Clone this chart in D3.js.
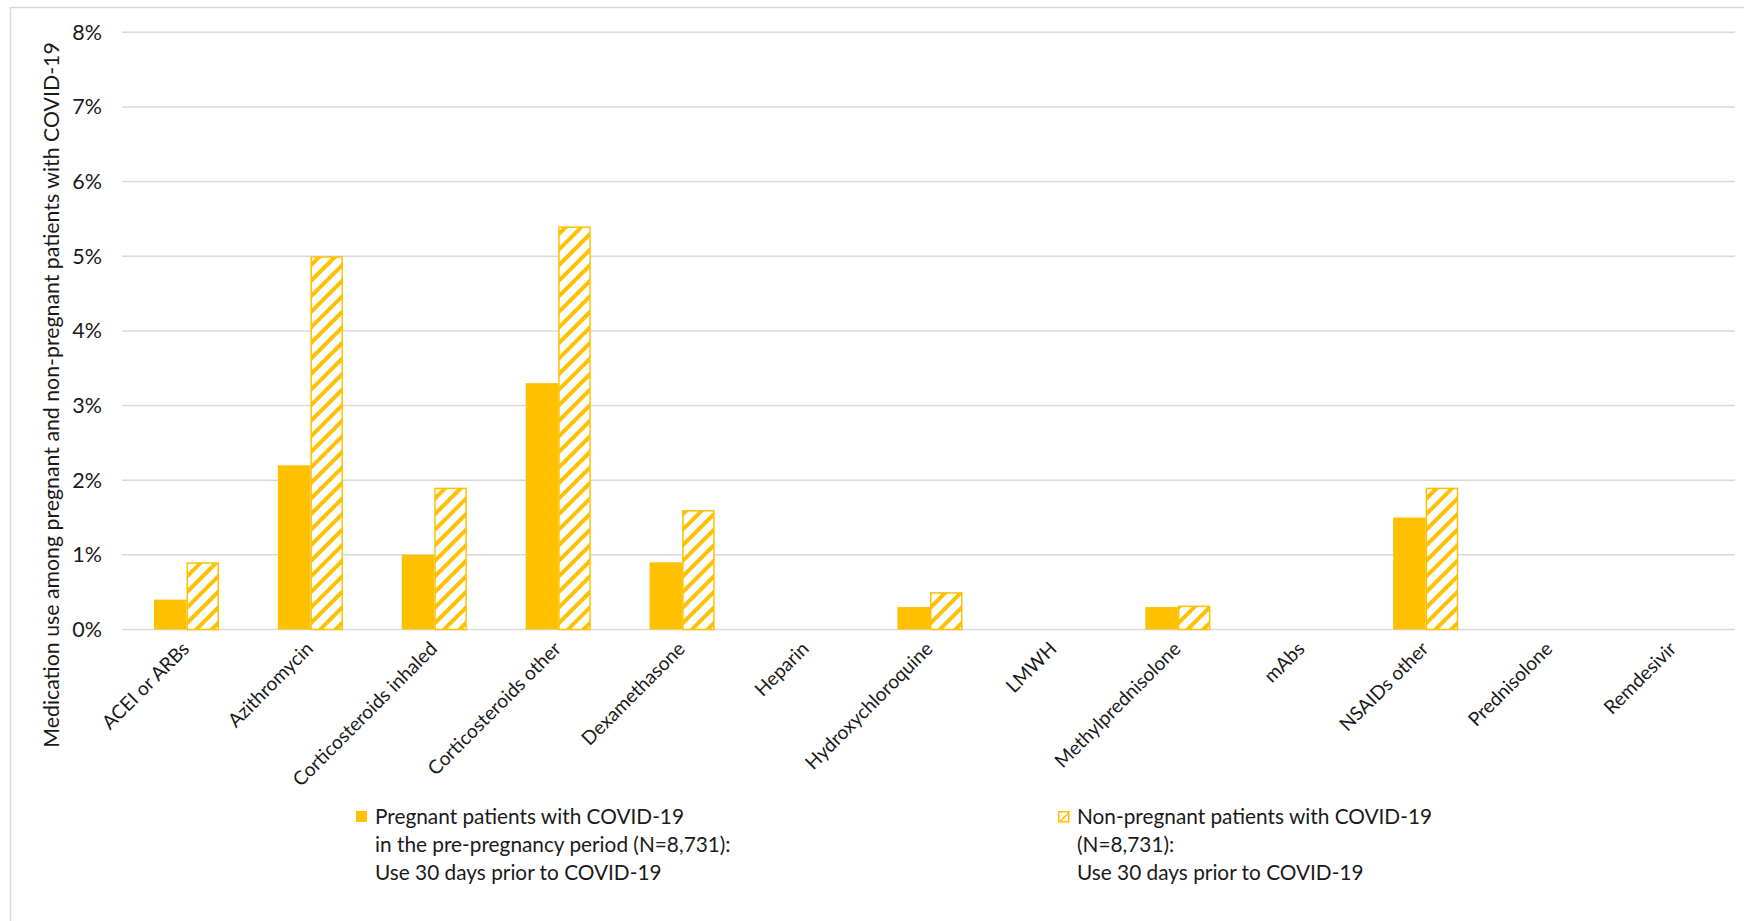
<!DOCTYPE html>
<html>
<head>
<meta charset="utf-8">
<script src="https://cdn.jsdelivr.net/npm/d3@7"></script>
<style>
  html, body { margin: 0; padding: 0; background: #fff; }
  svg text { font-family: Lato, "Open Sans", sans-serif; fill: #1a1a1a; }
</style>
</head>
<body>
<svg id="chart" width="1744" height="921"></svg>
<script>
const categories = ["ACEI or ARBs", "Azithromycin", "Corticosteroids inhaled", "Corticosteroids other",
  "Dexamethasone", "Heparin", "Hydroxychloroquine", "LMWH", "Methylprednisolone", "mAbs",
  "NSAIDs other", "Prednisolone", "Remdesivir"];
const pregnantValues = [0.004, 0.022, 0.010, 0.033, 0.009, 0, 0.003, 0, 0.003, 0, 0.015, 0, 0];
const nonPregnantValues = [0.009, 0.050, 0.019, 0.054, 0.016, 0, 0.005, 0, 0.0032, 0, 0.019, 0, 0];
const yTicks = [0, 0.01, 0.02, 0.03, 0.04, 0.05, 0.06, 0.07, 0.08];
const seriesNames = ["pregnant", "nonPregnant"];
const legendPregnant = ["Pregnant patients with COVID-19", "in the pre-pregnancy period (N=8,731):", "Use 30 days prior to COVID-19"];
const legendNonPregnant = ["Non-pregnant patients with COVID-19", "(N=8,731):", "Use 30 days prior to COVID-19"];
const yTitle = "Medication use among pregnant and non-pregnant patients with COVID-19";

const gold = "#FFC000";
const svg = d3.select("#chart");

// hatch pattern
const defs = svg.append("defs");
const pat = defs.append("pattern").attr("id", "hatch").attr("patternUnits", "userSpaceOnUse")
  .attr("width", 11).attr("height", 11).attr("patternTransform", "rotate(45)");
pat.append("rect").attr("width", 11).attr("height", 11).attr("fill", "#fff");
pat.append("rect").attr("x", 0).attr("y", 0).attr("width", 4).attr("height", 11).attr("fill", gold);

// chart border
svg.append("rect").attr("x", 10.5).attr("y", 7.5).attr("width", 1900).attr("height", 1000)
  .attr("fill", "none").attr("stroke", "#d9d9d9").attr("stroke-width", 1.5);

const x0 = d3.scaleBand().domain(categories).range([124.5, 1735.5]).paddingInner(0).paddingOuter(0);
const groupW = x0.bandwidth() * 0.525;
const x1 = d3.scaleBand().domain(seriesNames).range([0, groupW]);
const y = d3.scaleLinear().domain([0, 0.08]).range([629.5, 32.3]);

// gridlines
svg.append("g").selectAll("line").data(yTicks).join("line")
  .attr("x1", 122).attr("x2", 1735)
  .attr("y1", d => y(d)).attr("y2", d => y(d))
  .attr("stroke", "#d9d9d9").attr("stroke-width", 1.5);

// y tick labels
svg.append("g").selectAll("text").data(yTicks).join("text")
  .attr("x", 102).attr("y", d => y(d)).attr("dy", "0.35em")
  .attr("text-anchor", "end").attr("font-size", 21.5)
  .text(d => d3.format(".0%")(d));

// bars
const groups = svg.append("g").selectAll("g").data(categories).join("g")
  .attr("transform", d => `translate(${x0(d) + (x0.bandwidth() - groupW) / 2},0)`);

groups.append("rect")
  .attr("x", x1("pregnant"))
  .attr("width", x1.bandwidth())
  .attr("y", (d, i) => y(pregnantValues[i]))
  .attr("height", (d, i) => y(0) - y(pregnantValues[i]))
  .attr("fill", gold)
  .style("display", (d, i) => pregnantValues[i] > 0 ? null : "none");

groups.append("rect")
  .attr("x", x1("nonPregnant") + 0.75)
  .attr("width", x1.bandwidth() - 1.5)
  .attr("y", (d, i) => y(nonPregnantValues[i]) + 0.75)
  .attr("height", (d, i) => Math.max(0, y(0) - y(nonPregnantValues[i]) - 0.75))
  .attr("fill", "url(#hatch)")
  .attr("stroke", gold).attr("stroke-width", 1.5)
  .style("display", (d, i) => nonPregnantValues[i] > 0 ? null : "none");

// category labels
svg.append("g").selectAll("text").data(categories).join("text")
  .attr("transform", d => `translate(${x0(d) + x0.bandwidth() / 2 + 4},${650}) rotate(-45)`)
  .attr("text-anchor", "end").attr("font-size", 19.2)
  .text(d => d);

// y title
svg.append("text")
  .attr("transform", `translate(52,395) rotate(-90)`)
  .attr("dy", "0.35em")
  .attr("text-anchor", "middle").attr("font-size", 21.3)
  .text(yTitle);

// legend
const lg1 = svg.append("g").attr("transform", "translate(356,811)");
lg1.append("rect").attr("width", 11).attr("height", 11).attr("fill", gold);
lg1.selectAll("text").data(legendPregnant).join("text")
  .attr("x", 19).attr("y", (d, i) => 5.5 + i * 28).attr("dy", "0.35em")
  .attr("font-size", 20.8).text(d => d);

const lg2 = svg.append("g").attr("transform", "translate(1058,811)");
lg2.append("rect").attr("x", 0.75).attr("y", 0.75).attr("width", 10).attr("height", 10)
  .attr("fill", "#fff").attr("stroke", gold).attr("stroke-width", 1.5);
lg2.append("path").attr("d", "M0.75,10.75 L10.75,0.75 L10.75,3 L3,10.75 Z").attr("fill", gold);
lg2.selectAll("text").data(legendNonPregnant).join("text")
  .attr("x", 19).attr("y", (d, i) => 5.5 + i * 28).attr("dy", "0.35em")
  .attr("font-size", 20.8).text(d => d);
</script>
</body>
</html>
